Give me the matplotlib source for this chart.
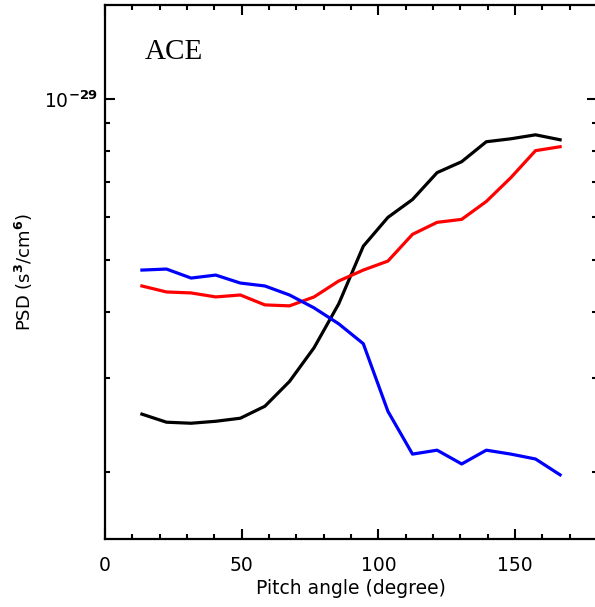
import matplotlib
matplotlib.use("Agg")
import matplotlib.pyplot as plt
from matplotlib.ticker import FixedLocator, FuncFormatter, NullFormatter, MultipleLocator

plt.rcParams['font.family'] = ['DejaVu Sans']
plt.rcParams['mathtext.fontset'] = 'dejavusans'

# Data
pitch_angle = [13.5, 22.5, 31.5, 40.5, 49.5, 58.5, 67.5, 76.5, 85.5,
               94.5, 103.5, 112.5, 121.5, 130.5, 139.5, 148.5, 157.5, 166.5]
psd_black = [2.570e-30, 2.482e-30, 2.471e-30, 2.492e-30, 2.525e-30, 2.659e-30,
             2.959e-30, 3.423e-30, 4.134e-30, 5.302e-30, 6.003e-30, 6.484e-30,
             7.281e-30, 7.633e-30, 8.318e-30, 8.425e-30, 8.570e-30, 8.389e-30]
psd_red = [4.466e-30, 4.352e-30, 4.334e-30, 4.260e-30, 4.296e-30, 4.116e-30,
           4.099e-30, 4.260e-30, 4.563e-30, 4.783e-30, 4.972e-30, 5.580e-30,
           5.876e-30, 5.952e-30, 6.429e-30, 7.127e-30, 8.004e-30, 8.141e-30]
psd_blue = [4.783e-30, 4.804e-30, 4.621e-30, 4.681e-30, 4.523e-30, 4.466e-30,
            4.296e-30, 4.063e-30, 3.794e-30, 3.482e-30, 2.602e-30, 2.163e-30,
            2.200e-30, 2.073e-30, 2.200e-30, 2.163e-30, 2.118e-30, 1.978e-30]
x_major = [0, 50, 100, 150]
y_major = [1e-29]
y_minor = [2e-30, 3e-30, 4e-30, 5e-30, 6e-30, 7e-30, 8e-30, 9e-30]
panel_label = "ACE"

W, H = 595, 607
fig = plt.figure(figsize=(W / 100, H / 100), dpi=100)
ax_w = (597 - 105) / W
ax = fig.add_axes([105 / W, (H - 539) / H, ax_w, (539 - 5) / H])

lw = 2.3
ax.plot(pitch_angle, psd_black, color='black', lw=lw)
ax.plot(pitch_angle, psd_red, color='#ff0000', lw=lw)
ax.plot(pitch_angle, psd_blue, color='#0000ff', lw=lw)

ax.set_yscale('log')
ax.set_xlim(0, 180)
ax.set_ylim(1.5e-30, 1.5e-29)

ax.xaxis.set_major_locator(FixedLocator(x_major))
ax.xaxis.set_minor_locator(MultipleLocator(10))
ax.yaxis.set_major_locator(FixedLocator(y_major))
ax.yaxis.set_minor_locator(FixedLocator(y_minor))
ax.yaxis.set_major_formatter(FuncFormatter(lambda v, p: r'$10^{\mathbf{-29}}$'))
ax.yaxis.set_minor_formatter(NullFormatter())

for s in ax.spines.values():
    s.set_linewidth(1.6)

ax.tick_params(which='both', direction='in', top=True, right=True,
               width=1.5, labelsize=13.5, colors='black')
ax.tick_params(which='major', length=7.5)
ax.tick_params(which='minor', length=3.8)
ax.tick_params(axis='x', pad=12)
ax.tick_params(axis='y', pad=5)

ax.set_xlabel('Pitch angle (degree)', fontsize=13.5, labelpad=3)
ax.set_ylabel(r'PSD (s$^{\mathbf{3}}$/cm$^{\mathbf{6}}$)', fontsize=13)
ax.yaxis.label.set_va('center')
ax.yaxis.set_label_coords((24 - 105) / (ax_w * W), 0.5)

ax.text(145 / W, (H - 52) / H, panel_label, transform=fig.transFigure,
        fontsize=21, family='Liberation Serif', va='center', ha='left')

fig.savefig('out.png', dpi=100)
